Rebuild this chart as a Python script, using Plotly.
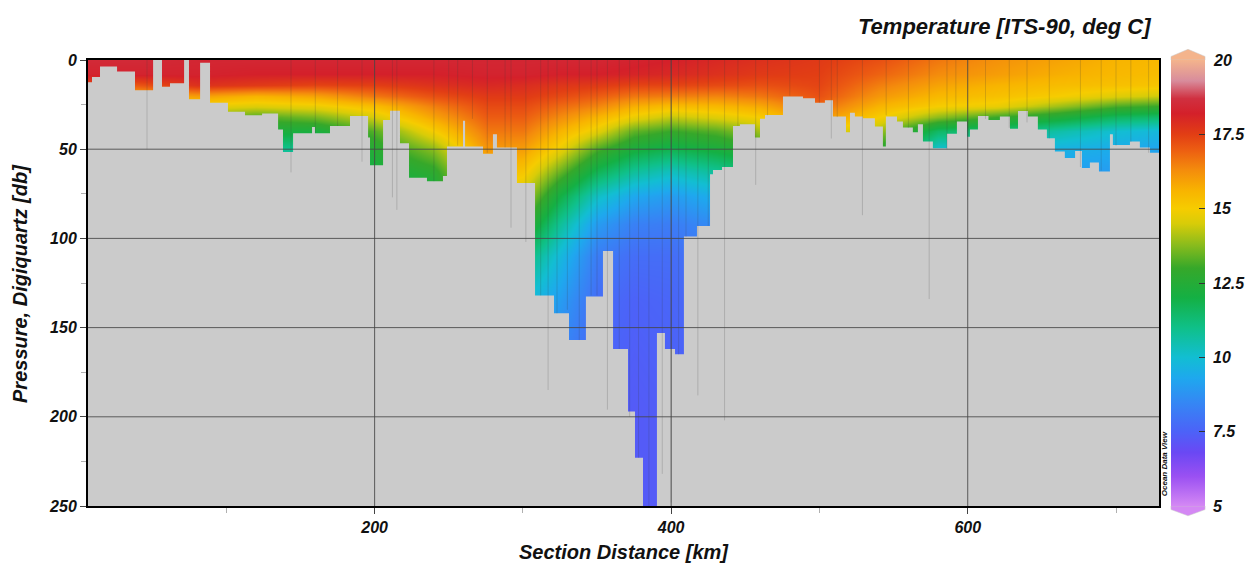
import plotly.graph_objects as go

# ---- section temperature field (ITS-90, deg C) ----
distance_km = [7, 40, 80, 120, 160, 200, 240, 275, 300, 325, 350, 375, 400, 430,
               460, 500, 540, 580, 620, 660, 700, 729]
pressure_db = [0, 8, 14, 20, 26, 32, 40, 50, 62, 76, 92, 110, 135, 165, 200, 250]

# one row per pressure level, one value per distance node
temperature_c = [
    [18.5, 18.5, 18.4, 18.4, 18.4, 18.4, 18.4, 18.4, 18.4, 18.4, 18.4, 18.3, 18.2, 18.0, 17.8, 17.6, 17.2, 16.6, 16.2, 15.9, 15.6, 15.5],
    [18.3, 18.3, 18.3, 18.2, 18.2, 18.2, 18.2, 18.3, 18.3, 18.2, 18.2, 18.1, 18.0, 17.8, 17.6, 17.5, 16.9, 16.3, 16.0, 15.7, 15.5, 15.4],
    [17.3, 17.1, 17.8, 17.6, 17.4, 17.5, 17.8, 18.0, 17.9, 17.7, 17.6, 17.4, 17.4, 17.3, 17.2, 17.4, 16.5, 15.9, 15.6, 15.4, 15.3, 15.2],
    [16.0, 15.6, 16.0, 15.6, 15.9, 16.6, 17.2, 17.6, 17.6, 17.3, 17.0, 16.6, 16.5, 16.4, 16.6, 17.2, 16.1, 15.5, 15.3, 15.0, 14.6, 14.4],
    [15.0, 14.6, 14.8, 14.6, 14.8, 15.4, 16.5, 17.3, 17.3, 16.8, 16.4, 15.7, 15.4, 15.5, 15.8, 16.8, 15.6, 15.0, 14.8, 14.0, 13.2, 13.0],
    [14.0, 13.6, 13.8, 13.2, 13.6, 14.5, 15.9, 17.0, 17.0, 16.3, 15.6, 14.8, 14.3, 14.6, 15.0, 16.2, 15.0, 13.8, 13.0, 12.4, 11.6, 11.4],
    [13.0, 12.6, 12.8, 12.3, 12.2, 13.3, 15.0, 16.6, 16.6, 15.6, 14.7, 13.4, 13.0, 13.3, 14.0, 15.0, 14.0, 11.5, 11.3, 10.6, 10.0, 9.8],
    [12.0, 11.6, 11.6, 10.8, 10.9, 12.6, 13.8, 16.1, 16.0, 14.8, 13.2, 12.2, 11.8, 12.2, 12.8, 13.5, 12.8, 10.0, 10.0, 9.6, 9.4, 9.2],
    [11.2, 10.8, 10.8, 10.1, 10.2, 12.1, 12.8, 15.5, 15.2, 13.5, 11.8, 10.8, 10.3, 10.8, 11.5, 12.0, 11.5, 9.3, 9.3, 9.1, 9.0, 8.9],
    [10.5, 10.2, 10.2, 9.6, 9.7, 11.2, 12.0, 14.8, 14.3, 12.0, 10.2, 9.3, 9.0, 9.5, 10.2, 10.6, 10.2, 8.8, 8.8, 8.6, 8.5, 8.4],
    [9.8, 9.6, 9.6, 9.2, 9.3, 10.4, 11.2, 13.8, 13.0, 10.8, 9.0, 8.3, 8.2, 8.6, 9.2, 9.5, 9.3, 8.4, 8.4, 8.2, 8.1, 8.0],
    [9.2, 9.0, 9.0, 8.8, 8.9, 9.8, 10.4, 12.8, 11.4, 9.8, 8.2, 7.8, 7.8, 8.1, 8.6, 8.8, 8.7, 8.1, 8.1, 7.9, 7.8, 7.8],
    [8.6, 8.5, 8.5, 8.4, 8.5, 9.0, 9.5, 11.5, 10.0, 9.0, 7.8, 7.5, 7.6, 7.8, 8.1, 8.3, 8.2, 7.9, 7.9, 7.7, 7.7, 7.7],
    [8.2, 8.1, 8.1, 8.0, 8.1, 8.4, 8.8, 10.2, 9.2, 8.4, 7.6, 7.4, 7.5, 7.6, 7.8, 7.9, 7.9, 7.7, 7.7, 7.6, 7.6, 7.6],
    [7.9, 7.8, 7.8, 7.8, 7.8, 8.0, 8.2, 9.0, 8.7, 7.9, 7.4, 7.3, 7.4, 7.5, 7.6, 7.7, 7.7, 7.6, 7.6, 7.5, 7.5, 7.5],
    [7.6, 7.6, 7.6, 7.6, 7.6, 7.7, 7.8, 8.2, 8.1, 7.6, 7.3, 7.3, 7.3, 7.4, 7.5, 7.5, 7.5, 7.5, 7.5, 7.5, 7.5, 7.5],
]

# ---- bottom topography: (start of step [km], bottom pressure [db]) ----
seabed_steps = [
    (6.7, 12.5), (9.4, 9.5), (14.8, 3.7), (26.3, 6.5), (38.4, 17.0), (50.6, 0.0),
    (56.6, 15.0), (62.0, 13.0), (71.5, 0.0), (74.8, 22.0), (82.3, 1.5), (89.0, 24.0),
    (101.1, 29.0), (112.6, 31.0), (124.1, 30.0), (134.9, 39.0), (138.2, 51.5),
    (145.0, 41.0), (157.8, 37.5), (159.8, 41.0), (169.9, 37.0), (183.4, 31.4),
    (195.6, 43.5), (196.9, 59.0), (205.7, 33.6), (210.4, 28.5), (217.1, 46.6),
    (223.2, 66.0), (235.3, 68.0), (246.1, 65.0), (248.8, 48.5), (259.6, 34.0),
    (261.0, 48.5), (273.1, 52.6), (279.8, 41.6), (282.5, 49.0), (296.0, 69.0),
    (308.2, 132.0), (321.0, 142.0), (331.1, 157.0), (342.5, 132.5), (354.0, 107.0),
    (360.8, 162.0), (370.9, 197.0), (375.6, 223.0), (381.0, 250.0), (390.4, 153.0),
    (395.8, 162.0), (402.6, 165.0), (408.6, 99.0), (417.4, 93.0), (426.2, 64.0),
    (428.2, 61.6), (434.3, 60.0), (441.7, 37.0), (446.4, 36.0), (456.5, 43.5),
    (459.9, 33.0), (463.3, 30.8), (475.4, 20.5), (488.9, 21.5), (497.0, 24.0),
    (503.7, 22.6), (509.1, 31.7), (517.9, 40.5), (520.6, 29.5), (523.9, 31.7),
    (529.3, 32.6), (537.4, 37.3), (542.8, 48.5), (544.8, 31.7), (552.3, 34.5),
    (556.3, 37.8), (563.0, 40.5), (566.4, 36.0), (569.8, 45.7), (576.5, 49.4),
    (586.0, 41.4), (592.7, 34.5), (599.5, 43.0), (601.5, 38.9), (606.9, 31.4),
    (614.0, 33.6), (621.7, 31.7), (628.5, 38.6), (633.9, 28.6), (640.6, 31.7),
    (647.3, 39.0), (653.4, 43.8), (658.8, 51.3), (665.5, 55.0), (672.4, 51.0),
    (677.0, 60.5), (682.4, 57.5), (688.5, 62.5), (695.9, 41.6), (697.9, 47.6),
    (709.4, 45.7), (716.1, 49.0), (722.9, 52.0),
]
section_end_km = 729.0
max_pressure_db = 250

# ---- CTD stations: (distance [km], deepest sample [db]) ----
stations = [
    (46.5, 50), (143.6, 63), (160, 41), (175, 37), (191.5, 57), (212, 77), (215, 84),
    (240, 68), (250, 48), (256, 48), (266, 33), (276, 52), (288, 49), (292, 94),
    (302, 102), (312, 132), (317, 185), (323, 142), (330, 140), (338, 157), (346, 132),
    (350, 132), (357, 196), (365, 162), (372, 200), (378, 223), (385, 250), (394, 232),
    (400, 248), (405, 165), (410, 99), (418, 188), (425, 93), (436, 202), (445, 37),
    (457, 70), (465, 31), (480, 20), (500, 24), (508, 44), (512, 32), (529, 87),
    (545, 31), (560, 38), (574, 134), (586, 50), (592, 35), (612, 33), (628, 38),
    (640, 35), (655, 44), (676, 60), (690, 62), (700, 48), (710, 46), (722, 52),
]

# ---- axes / colour bar ticks ----
x_ticks = [200, 400, 600]
x_minor = [100, 300, 500, 700]
y_ticks = [0, 50, 100, 150, 200, 250]
y_minor = [25, 75, 125, 175, 225]
cbar_ticks = [5, 7.5, 10, 12.5, 15, 17.5, 20]
cbar_labels = ["5", "7.5", "10", "12.5", "15", "17.5", "20"]
t_min, t_max = 5, 20

# ODV-style rainbow, anchored at temperatures
palette = [
    (5.0, "#d488f4"), (6.0, "#9a50f2"), (6.8, "#6a48f4"), (7.5, "#4c62f8"),
    (8.5, "#3488f4"), (9.3, "#1ea8ee"), (10.0, "#12bed2"), (11.0, "#0fc088"),
    (12.0, "#14b044"), (13.0, "#36a82a"), (13.8, "#8cbc1c"), (14.5, "#d8cc08"),
    (15.0, "#f6cc00"), (15.6, "#f8b400"), (16.3, "#f48c0c"), (17.0, "#ec5c12"),
    (17.5, "#e23e14"), (18.2, "#d4202a"), (18.7, "#d03040"), (19.3, "#d88c9c"),
    (20.0, "#f4b48c"),
]
colorscale = [[(t - t_min) / (t_max - t_min), c] for t, c in palette]

FONT = "Liberation Sans, Arial, sans-serif"
INK = "#111111"
SEABED = "#cbcbcb"

# colour bar geometry (paper units, relative to the plot area)
cb_left, cb_right = 1.0112, 1.0430
cb_mid = (cb_left + cb_right) / 2

fig = go.Figure()

fig.add_trace(go.Heatmap(
    x=distance_km, y=pressure_db, z=temperature_c,
    zsmooth="best", colorscale=colorscale, zmin=t_min, zmax=t_max,
    hoverinfo="skip",
    colorbar=dict(
        x=cb_left, xanchor="left", y=0.5, yanchor="middle",
        len=1, lenmode="fraction", thickness=34, thicknessmode="pixels",
        xpad=0, ypad=0, outlinewidth=0,
        tickmode="array", tickvals=cbar_ticks, ticktext=cbar_labels,
        ticks="inside", ticklen=6, tickcolor="#333", tickwidth=1,
        showticklabels=False,
    ),
))

# seabed as a stepped polygon closed along the bottom of the section
sx = [seabed_steps[0][0]]
sy = [max_pressure_db]
for i, (km, db) in enumerate(seabed_steps):
    km_next = seabed_steps[i + 1][0] if i + 1 < len(seabed_steps) else section_end_km
    sx += [km, km_next]
    sy += [db, db]
sx.append(section_end_km)
sy.append(max_pressure_db)
fig.add_trace(go.Scatter(
    x=sx, y=sy, mode="lines", fill="toself", fillcolor=SEABED,
    line=dict(width=0, color=SEABED), hoverinfo="skip", showlegend=False,
))

# station casts as thin vertical lines
cx, cy = [], []
for km, db in stations:
    cx += [km, km, None]
    cy += [0, db, None]
fig.add_trace(go.Scatter(
    x=cx, y=cy, mode="lines", line=dict(width=1, color="rgba(60,60,60,0.2)"),
    hoverinfo="skip", showlegend=False,
))

# grid lines drawn over the field and the seabed
shapes = []
for v in x_ticks:
    shapes.append(dict(type="line", xref="x", yref="paper", x0=v, x1=v, y0=0, y1=1,
                       line=dict(color="rgba(70,70,70,0.85)", width=1), layer="above"))
for v in y_ticks[1:-1]:
    shapes.append(dict(type="line", xref="paper", yref="y", x0=0, x1=1, y0=v, y1=v,
                       line=dict(color="rgba(70,70,70,0.85)", width=1), layer="above"))

# pointed ends of the colour bar
shapes.append(dict(type="path", xref="paper", yref="paper",
                   path=f"M {cb_left} 1 L {cb_left} 1.008 L {cb_mid} 1.024 L {cb_right} 1.008 L {cb_right} 1 Z",
                   fillcolor=palette[-1][1], line=dict(color="#c8c8c8", width=0.5), layer="above"))
shapes.append(dict(type="path", xref="paper", yref="paper",
                   path=f"M {cb_left} 0 L {cb_left} -0.008 L {cb_mid} -0.022 L {cb_right} -0.008 L {cb_right} 0 Z",
                   fillcolor=palette[0][1], line=dict(color="#c8c8c8", width=0.5), layer="above"))

bold_italic = dict(family=FONT, color=INK, weight="bold", style="italic")
annotations = [
    dict(text="Temperature [ITS-90, deg C]", xref="paper", yref="paper",
         x=0.9944, y=1.076, xanchor="right", yanchor="middle", showarrow=False,
         font=dict(bold_italic, size=22)),
    dict(text="Section Distance [km]", xref="paper", yref="paper",
         x=0.5, y=-0.104, xanchor="center", yanchor="middle", showarrow=False,
         font=dict(bold_italic, size=20)),
    dict(text="Pressure, Digiquartz [db]", xref="paper", yref="paper",
         x=-0.0635, y=0.5, xanchor="center", yanchor="middle", textangle=-90,
         showarrow=False, font=dict(bold_italic, size=20)),
    dict(text="Ocean Data View", xref="paper", yref="paper",
         x=1.0052, y=0.095, xanchor="center", yanchor="middle", textangle=-90,
         showarrow=False, font=dict(bold_italic, size=8)),
]
# colour bar tick labels beside the bar
for t, lab in zip(cbar_ticks, cbar_labels):
    annotations.append(dict(
        text=lab, xref="paper", yref="paper", x=cb_right + 0.006,
        y=(t - t_min) / (t_max - t_min), xanchor="left", yanchor="middle",
        showarrow=False, font=dict(bold_italic, size=16),
    ))

tick_font = dict(bold_italic, size=16)
fig.update_layout(
    width=1251, height=564,
    margin=dict(l=88, r=92, t=60, b=58),
    paper_bgcolor="white", plot_bgcolor=SEABED,
    showlegend=False,
    shapes=shapes, annotations=annotations,
    xaxis=dict(
        range=[6.7, section_end_km], tickmode="array", tickvals=x_ticks,
        ticks="outside", ticklen=6, tickcolor="#444", tickfont=tick_font,
        showgrid=False, zeroline=False, showline=True, mirror=True,
        linecolor="black", linewidth=2,
        minor=dict(tickmode="array", tickvals=x_minor, ticks="outside", ticklen=5,
                   tickcolor="#b0b0b0", showgrid=False),
    ),
    yaxis=dict(
        range=[max_pressure_db, 0], tickmode="array", tickvals=y_ticks,
        ticks="outside", ticklen=6, tickcolor="#444", tickfont=tick_font,
        showgrid=False, zeroline=False, showline=True, mirror=True,
        linecolor="black", linewidth=2,
        minor=dict(tickmode="array", tickvals=y_minor, ticks="outside", ticklen=5,
                   tickcolor="#b0b0b0", showgrid=False),
    ),
)

fig.write_html("out.html")
